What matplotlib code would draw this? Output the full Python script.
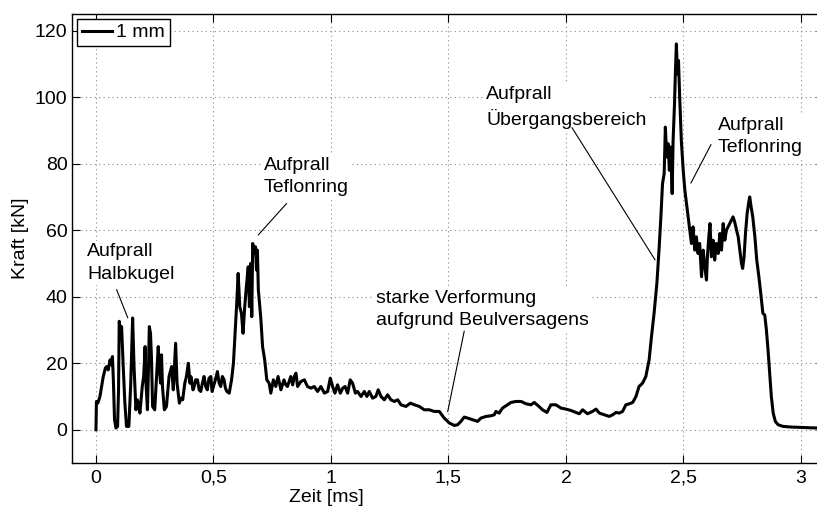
import matplotlib
matplotlib.use("Agg")
import matplotlib.pyplot as plt
from matplotlib.ticker import FuncFormatter

# Kraft-Zeit-Verlauf, Werte
zeit_ms = [
    0.000, 0.002, 0.008, 0.017, 0.025, 0.031, 0.040, 0.045, 0.052, 0.060,
    0.066, 0.070, 0.074, 0.079, 0.085, 0.092, 0.096, 0.099, 0.104, 0.109,
    0.116, 0.123, 0.130, 0.140, 0.148, 0.156, 0.162, 0.170, 0.176, 0.180,
    0.187, 0.197, 0.203, 0.209, 0.213, 0.219, 0.224, 0.227, 0.232, 0.236,
    0.241, 0.250, 0.258, 0.265, 0.270, 0.275, 0.279, 0.283, 0.291, 0.300,
    0.311, 0.322, 0.329, 0.339, 0.345, 0.355, 0.362, 0.369, 0.378, 0.385,
    0.393, 0.400, 0.404, 0.413, 0.418, 0.424, 0.432, 0.439, 0.446, 0.453,
    0.460, 0.467, 0.474, 0.481, 0.489, 0.494, 0.500, 0.508, 0.517, 0.524,
    0.531, 0.538, 0.545, 0.551, 0.557, 0.567, 0.577, 0.585, 0.592, 0.599,
    0.605, 0.612, 0.619, 0.626, 0.633, 0.640, 0.648, 0.653, 0.659, 0.663,
    0.667, 0.673, 0.679, 0.683, 0.687, 0.691, 0.697, 0.701, 0.709, 0.718,
    0.727, 0.737, 0.744, 0.755, 0.765, 0.775, 0.787, 0.800, 0.808, 0.815,
    0.829, 0.837, 0.844, 0.851, 0.858, 0.872, 0.887, 0.900, 0.915, 0.929,
    0.943, 0.957, 0.972, 0.986, 0.997, 1.007, 1.017, 1.028, 1.040, 1.050,
    1.060, 1.071, 1.082, 1.092, 1.104, 1.113, 1.128, 1.142, 1.153, 1.163,
    1.177, 1.191, 1.201, 1.213, 1.227, 1.241, 1.255, 1.270, 1.284, 1.298,
    1.319, 1.338, 1.355, 1.376, 1.397, 1.418, 1.440, 1.461, 1.482, 1.504,
    1.525, 1.539, 1.553, 1.567, 1.582, 1.603, 1.624, 1.638, 1.660, 1.681,
    1.695, 1.702, 1.716, 1.730, 1.745, 1.766, 1.787, 1.809, 1.830, 1.851,
    1.865, 1.882, 1.900, 1.919, 1.936, 1.957, 1.979, 2.000, 2.021, 2.043,
    2.057, 2.071, 2.092, 2.113, 2.128, 2.142, 2.163, 2.184, 2.199, 2.213,
    2.227, 2.241, 2.255, 2.270, 2.284, 2.298, 2.311, 2.326, 2.340, 2.354,
    2.364, 2.375, 2.387, 2.396, 2.404, 2.411, 2.418, 2.423, 2.429, 2.435,
    2.440, 2.446, 2.452, 2.456, 2.462, 2.466, 2.470, 2.474, 2.479, 2.484,
    2.491, 2.499, 2.506, 2.513, 2.520, 2.527, 2.534, 2.541, 2.548, 2.555,
    2.562, 2.569, 2.577, 2.584, 2.591, 2.598, 2.602, 2.608, 2.613, 2.619,
    2.626, 2.633, 2.640, 2.648, 2.655, 2.662, 2.669, 2.676, 2.683, 2.690,
    2.697, 2.704, 2.711, 2.718, 2.726, 2.733, 2.740, 2.747, 2.752, 2.758,
    2.764, 2.771, 2.777, 2.782, 2.788, 2.795, 2.804, 2.812, 2.821, 2.829,
    2.838, 2.846, 2.853, 2.860, 2.867, 2.874, 2.882, 2.891, 2.903, 2.924,
    2.960, 3.002, 3.045, 3.074,
]
kraft_kn = [
    0.0, 8.5, 8.0, 10.0, 13.5, 16.0, 18.5, 19.0, 18.0, 21.0,
    19.5, 22.0, 15.0, 3.0, 0.5, 1.0, 12.0, 32.6, 29.5, 31.0,
    19.0, 8.0, 1.0, 1.0, 14.0, 33.6, 19.0, 6.0, 9.0, 8.0,
    5.0, 13.0, 16.0, 25.0, 14.0, 6.0, 20.0, 31.0, 29.0, 22.0,
    7.0, 6.0, 16.0, 25.0, 18.0, 14.0, 22.5, 13.0, 6.0, 7.0,
    16.0, 19.0, 12.0, 26.0, 14.0, 8.0, 9.5, 9.0, 14.0, 16.0,
    20.0, 14.0, 16.0, 12.0, 13.0, 15.0, 15.0, 12.0, 11.5, 14.0,
    16.0, 13.0, 12.0, 15.5, 16.0, 11.5, 13.0, 15.0, 17.5, 14.0,
    13.0, 16.0, 15.0, 12.5, 11.5, 11.0, 15.0, 20.0, 29.0, 38.0,
    47.0, 37.0, 35.0, 29.0, 37.0, 43.0, 49.0, 37.0, 50.0, 34.0,
    56.0, 53.0, 55.0, 48.0, 54.0, 42.0, 37.0, 34.0, 25.0, 21.0,
    15.0, 14.0, 11.0, 15.0, 13.0, 16.0, 12.0, 15.0, 13.5, 13.0,
    16.0, 13.5, 16.0, 17.0, 13.0, 14.5, 15.0, 13.0, 12.5, 13.0,
    11.5, 13.0, 11.0, 11.5, 15.5, 13.0, 11.0, 13.5, 11.0, 12.5,
    13.0, 11.0, 15.0, 14.0, 11.0, 11.5, 10.0, 11.5, 10.0, 11.5,
    9.5, 10.0, 12.0, 10.0, 9.0, 10.5, 9.0, 8.5, 9.0, 7.5,
    7.0, 8.0, 7.5, 7.0, 6.0, 6.0, 5.5, 5.5, 3.5, 2.0,
    1.3, 1.5, 2.5, 3.8, 3.5, 3.0, 2.5, 3.5, 4.0, 4.2,
    4.5, 5.5, 5.0, 6.5, 7.2, 8.2, 8.5, 8.5, 7.8, 7.5,
    8.2, 7.2, 6.0, 5.2, 7.5, 7.5, 6.5, 6.2, 5.8, 5.2,
    4.8, 6.0, 4.8, 5.5, 6.2, 5.0, 4.5, 4.0, 4.5, 5.2,
    5.0, 5.5, 7.5, 7.8, 8.2, 10.0, 13.0, 14.0, 16.0, 21.0,
    28.0, 35.0, 44.0, 54.0, 64.0, 74.0, 77.0, 91.0, 82.0, 86.0,
    78.0, 85.0, 71.0, 87.0, 98.0, 108.0, 116.0, 107.0, 111.0, 100.0,
    87.0, 78.0, 72.0, 68.0, 64.0, 60.0, 56.0, 61.0, 54.0, 58.0,
    53.0, 56.0, 46.0, 54.0, 49.0, 45.0, 52.0, 58.0, 62.0, 52.0,
    57.0, 51.0, 56.0, 53.0, 59.0, 54.0, 62.0, 57.0, 60.0, 61.0,
    62.0, 63.0, 64.0, 62.5, 60.0, 58.0, 54.0, 50.0, 48.5, 52.0,
    59.0, 65.0, 68.0, 70.0, 67.0, 64.0, 58.0, 51.0, 46.0, 41.0,
    35.0, 34.5, 30.0, 24.0, 17.0, 10.0, 5.0, 2.5, 1.5, 1.0,
    0.8, 0.7, 0.6, 0.5,
]

x_ticks = [0, 0.5, 1, 1.5, 2, 2.5, 3]
y_ticks = [0, 20, 40, 60, 80, 100, 120]

# Beschriftungen: Text, Textposition (t, F), Linie von -> nach
notizen = [
    ("Aufprall\nHalbkugel", (-0.037, 56.0), (0.088, 42.1), (0.135, 33.7)),
    ("Aufprall\nTeflonring", (0.715, 82.0), (0.811, 68.0), (0.691, 58.6)),
    ("starke Verformung\naufgrund Beulversagens", (1.191, 42.0), (1.567, 29.6), (1.497, 5.5)),
    ("Aufprall\nÜbergangsbereich", (1.660, 103.5), (2.026, 90.8), (2.379, 51.1)),
    ("Aufprall\nTeflonring", (2.647, 94.0), (2.617, 85.7), (2.532, 74.2)),
]

plt.rcParams["font.family"] = ["Liberation Sans", "DejaVu Sans"]
plt.rcParams["font.size"] = 14

fig = plt.figure(figsize=(8.17, 5.09), dpi=100)
ax = fig.add_axes([0.0887, 0.0904, 0.9204, 0.8821])

ax.plot(zeit_ms, kraft_kn, color="black", lw=2.2, label="1 mm", zorder=4)

ax.set_xlim(-0.1, 3.1)
ax.set_ylim(-10, 125)
ax.set_xticks(x_ticks)
ax.set_yticks(y_ticks)
ax.xaxis.set_major_formatter(FuncFormatter(lambda v, p: ("%g" % v).replace(".", ",")))
ax.tick_params(direction="in", length=6, width=0.8, top=True, right=True,
               labelsize=14)
ax.tick_params(axis="x", pad=5)
for s in ax.spines.values():
    s.set_linewidth(1.0)

ax.grid(True, linestyle=(0, (1, 3)), color="#888888", linewidth=0.8)
ax.set_axisbelow(True)

ax.set_xlabel("Zeit [ms]", fontsize=14)
ax.set_ylabel("Kraft [kN]", fontsize=14)
ax.xaxis.set_label_coords(0.337, -0.058)
ax.yaxis.set_label_coords(-0.058, 0.5)

for txt, pos, p1, p2 in notizen:
    ax.text(pos[0], pos[1], txt, ha="left", va="top", fontsize=14, linespacing=1.4,
            bbox=dict(facecolor="white", edgecolor="none", pad=2), zorder=3)
    ax.plot([p1[0], p2[0]], [p1[1], p2[1]], color="black", lw=0.8, zorder=3)

leg = ax.legend(loc="upper left", fontsize=14, handlelength=1.55, handletextpad=0.2,
                borderpad=0.25, borderaxespad=0.25, fancybox=False, framealpha=1)
leg.get_frame().set_edgecolor("black")
leg.get_frame().set_linewidth(1.0)

fig.savefig("out.png", dpi=100)
